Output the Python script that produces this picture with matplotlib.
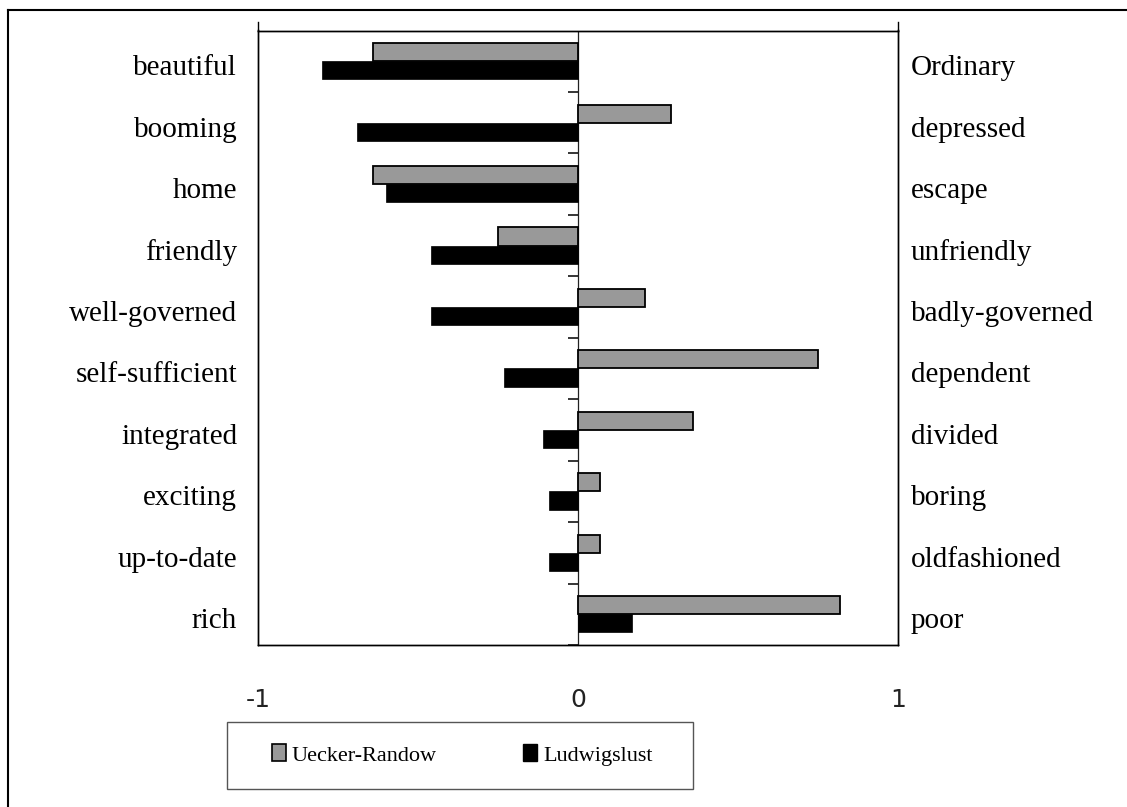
"""Semantic differential profile for two districts, drawn as paired horizontal bars."""

import matplotlib

matplotlib.use("Agg")

import matplotlib.pyplot as plt
import matplotlib.transforms as mtransforms
import numpy as np
from matplotlib.lines import Line2D
from matplotlib.patches import Patch, Rectangle

# positive pole on the left, negative pole on the right
left_terms = [
    "beautiful", "booming", "home", "friendly", "well-governed",
    "self-sufficient", "integrated", "exciting", "up-to-date", "rich",
]
right_terms = [
    "Ordinary", "depressed", "escape", "unfriendly", "badly-governed",
    "dependent", "divided", "boring", "oldfashioned", "poor",
]
uecker_randow = [-0.64, 0.29, -0.64, -0.25, 0.21, 0.75, 0.36, 0.07, 0.07, 0.82]
ludwigslust = [-0.80, -0.69, -0.60, -0.46, -0.46, -0.23, -0.11, -0.09, -0.09, 0.17]
series_names = ["Uecker-Randow", "Ludwigslust"]
x_ticks = [-1, 0, 1]
x_tick_labels = ["-1", "0", "1"]

GREY = "#999999"
SERIF = ["Liberation Serif", "DejaVu Serif"]
W, H = 1127, 807

fig = plt.figure(figsize=(W / 100, H / 100), dpi=100)
fig.patch.set_facecolor("white")
ax = fig.add_axes([258 / W, 1 - 645 / H, 640 / W, 614.5 / H])

n = len(left_terms)
y = np.arange(n)
bar_h = 0.295
ax.barh(y - bar_h / 2, uecker_randow, height=bar_h, color=GREY,
        edgecolor="black", linewidth=1.3, zorder=3)
ax.barh(y + bar_h / 2, ludwigslust, height=bar_h, color="black",
        edgecolor="black", linewidth=0.5, zorder=3)

ax.set_xlim(-1, 1)
ax.set_ylim(n - 0.5, -0.5)

# zero line with small category separators
ax.axvline(0, color="#222222", linewidth=0.9, zorder=2)
bounds = np.arange(n + 1) - 0.5
ax.hlines(bounds, -0.03, 0, color="black", linewidth=1.1, zorder=2)

ax.set_xticks(x_ticks)
ax.set_xticklabels(x_tick_labels, family="DejaVu Sans", fontsize=18)
ax.tick_params(axis="x", length=0, pad=31, colors="#222222")

ax.set_yticks(y)
ax.set_yticklabels(left_terms, family=SERIF, fontsize=21)
ax.tick_params(axis="y", length=0, pad=15)

ax2 = ax.twinx()
ax2.set_ylim(ax.get_ylim())
ax2.set_yticks(y)
ax2.set_yticklabels(right_terms, family=SERIF, fontsize=21)
ax2.tick_params(axis="y", length=0, pad=9)

# labels sit a little below the band centre
shift = mtransforms.ScaledTranslation(0, -4 / 100, fig.dpi_scale_trans)
for lbl in ax.get_yticklabels() + ax2.get_yticklabels():
    lbl.set_transform(lbl.get_transform() + shift)

for a in (ax, ax2):
    for spine in a.spines.values():
        spine.set_linewidth(1.0)
        spine.set_color("black")

# side spines poke out slightly above the frame
for xs in (0, 1):
    ax.add_line(Line2D([xs, xs], [1, 1 + 9 / 614.5], transform=ax.transAxes,
                       color="black", linewidth=1.0, clip_on=False))

# outer border (left and top edges)
fig.add_artist(Line2D([8 / W, 8 / W], [0, 1 - 10 / H], color="black", linewidth=1.5))
fig.add_artist(Line2D([8 / W, 1], [1 - 10 / H, 1 - 10 / H], color="black", linewidth=1.5))

# legend box
fig.add_artist(Rectangle((227 / W, 1 - 789 / H), 466 / W, 67 / H,
                         transform=fig.transFigure, fill=False,
                         edgecolor="#555555", linewidth=1.0))
handles = [
    Patch(facecolor=GREY, edgecolor="black", linewidth=1.2),
    Patch(facecolor="black", edgecolor="black"),
]
fig.legend(handles, series_names, ncol=2, frameon=False, loc="center left",
           bbox_to_anchor=(272 / W, 1 - 755 / H), borderpad=0, borderaxespad=0,
           prop={"family": SERIF, "size": 16}, handlelength=0.63,
           handleheight=0.8, handletextpad=0.25, columnspacing=3.9)

fig.savefig("out.png", dpi=100, facecolor="white")
